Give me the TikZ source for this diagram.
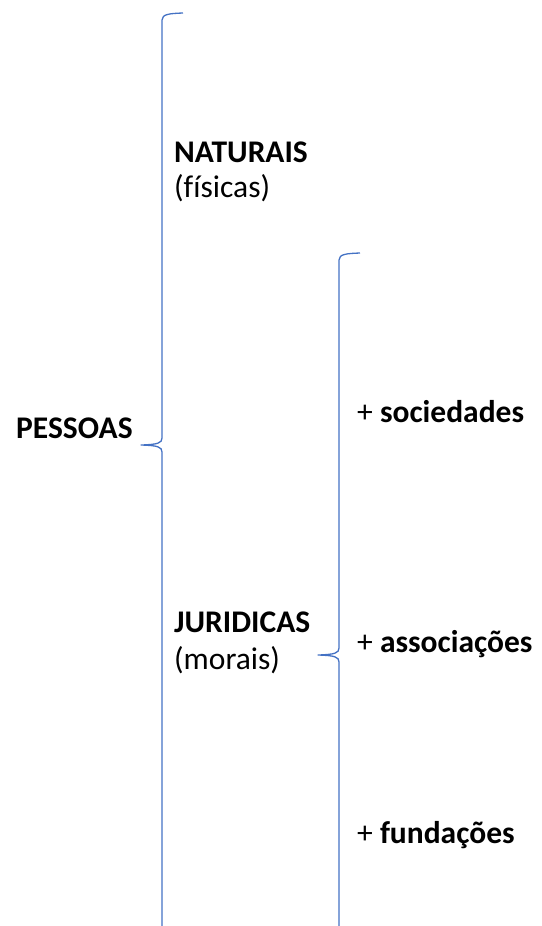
\documentclass[tikz,border=0pt]{standalone}
\usepackage{fontspec}
\setmainfont[Ligatures=NoCommon]{Carlito}
\definecolor{bracecol}{HTML}{4472C4}
\begin{document}
\begin{tikzpicture}[x=1pt,y=-1pt,
  brace/.style={draw=bracecol, line width=1.3pt, line join=round},
  lbl/.style={anchor=base west, inner sep=0pt, font=\fontsize{31.5}{38}\selectfont}]
\useasboundingbox (0,0) rectangle (541,926);
% brace 1
\coordinate (b1top) at (183,13);
\coordinate (b1tip) at (141,445);
\coordinate (b1bot) at (162,926);
\draw[brace] (b1top) .. controls (170,13.5) and (162,14) .. (162,20) -- (162,438)
  .. controls (162,443) and (158,444.5) .. (b1tip)
  .. controls (158,445.5) and (162,447) .. (162,452) -- (b1bot);
% brace 2
\coordinate (b2top) at (360,253);
\coordinate (b2tip) at (318,655);
\coordinate (b2bot) at (339,926);
\draw[brace] (b2top) .. controls (347,253.5) and (339,254) .. (339,260) -- (339,648)
  .. controls (339,653) and (335,654.5) .. (b2tip)
  .. controls (335,655.5) and (339,657) .. (339,662) -- (b2bot);
% texts
\node[lbl] (pessoas) at (16,438) {\textbf{PESSOAS}};
\node[lbl] (naturais) at (174,162) {\textbf{NATURAIS}};
\node[lbl] (fisicas) at (174,197) {(f{}ísicas)};
\node[lbl] (juridicas) at (174,632) {\textbf{JURIDICAS}};
\node[lbl] (morais) at (174,669) {(morais)};
\node[lbl] (soc) at (357,422) {+ \textbf{sociedades}};
\node[lbl] (assoc) at (357,652) {+ \textbf{associações}};
\node[lbl] (fund) at (357,843) {+ \textbf{fundações}};
\end{tikzpicture}
\end{document}
